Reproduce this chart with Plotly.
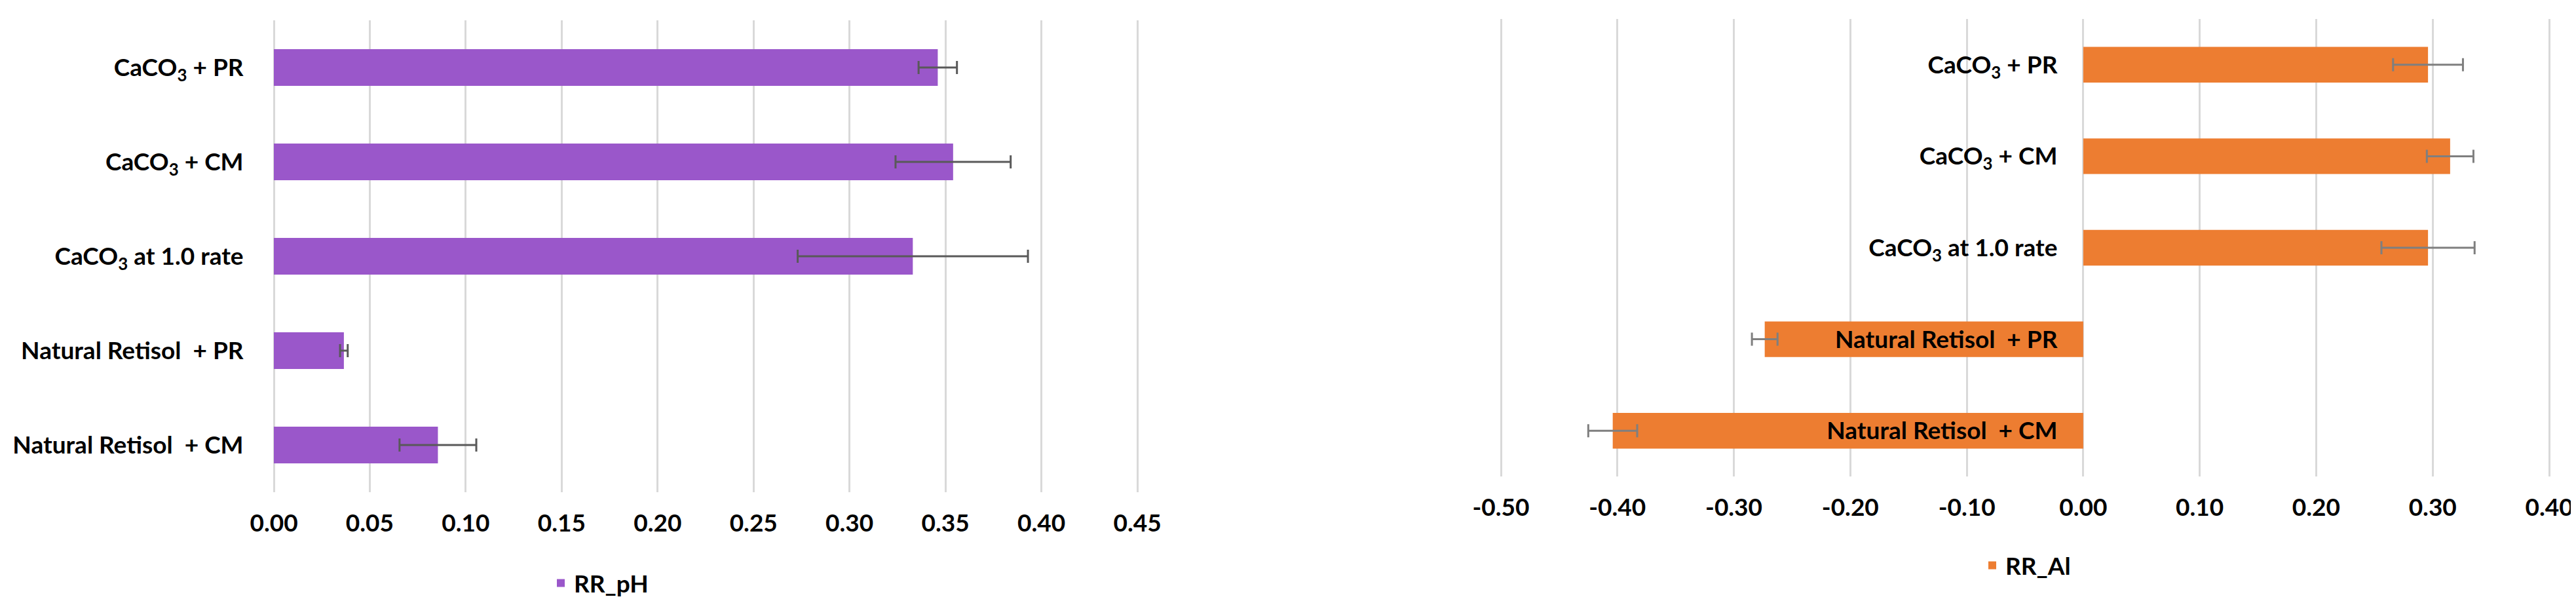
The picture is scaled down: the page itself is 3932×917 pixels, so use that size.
import plotly.graph_objects as go

# ---------------- data ----------------
categories = [
    "CaCO<sub>3</sub> + PR",
    "CaCO<sub>3</sub> + CM",
    "CaCO<sub>3</sub> at 1.0 rate",
    "Natural Retisol\u00a0 + PR",
    "Natural Retisol\u00a0 + CM",
]
rr_ph = [0.346, 0.354, 0.333, 0.0365, 0.0855]
rr_ph_err = [0.010, 0.030, 0.060, 0.002, 0.020]

rr_al = [0.296, 0.315, 0.296, -0.2735, -0.404]
rr_al_err = [0.030, 0.020, 0.040, 0.011, 0.021]

ph_tickvals = [0.00, 0.05, 0.10, 0.15, 0.20, 0.25, 0.30, 0.35, 0.40, 0.45]
ph_ticktext = ["0.00", "0.05", "0.10", "0.15", "0.20", "0.25", "0.30", "0.35", "0.40", "0.45"]
al_tickvals = [-0.50, -0.40, -0.30, -0.20, -0.10, 0.00, 0.10, 0.20, 0.30, 0.40]
al_ticktext = ["-0.50", "-0.40", "-0.30", "-0.20", "-0.10", "0.00", "0.10", "0.20", "0.30", "0.40"]

# ---------------- styling ----------------
W, H = 3932, 917
FONT = "Lato"
FS = 37
PURPLE = "#9A57CA"
ORANGE = "#ED7D31"
GRID = "#D9D9D9"
CLEAR = "rgba(0,0,0,0)"


def padded(lo, hi, px_lo, px_hi, pad_px=6):
    """Extend an axis range a few pixels so the edge gridlines stay visible."""
    per = (px_hi - px_lo) / (hi - lo)
    eps = pad_px / per
    return [lo - eps, hi + eps], [(px_lo - pad_px) / W, (px_hi + pad_px) / W]


ph_range, left_xdom = padded(0.0, 0.45, 410, 1728)
al_range, right_xdom = padded(-0.50, 0.40, 2283, 3883)
left_ydom = [1 - 743 / H, 1 - 23 / H]
right_ydom = [1 - 719 / H, 1 - 21 / H]
# y-axis of the right chart sits on the zero line
zero_pos = right_xdom[0] + (0 - al_range[0]) / (al_range[1] - al_range[0]) * (right_xdom[1] - right_xdom[0])

fig = go.Figure()
fig.add_trace(go.Bar(
    y=categories, x=rr_ph, orientation="h", name="RR_pH",
    marker=dict(color=PURPLE, line=dict(width=0)), width=0.39,
    error_x=dict(type="data", array=rr_ph_err, color="#595959", thickness=3, width=10),
    xaxis="x", yaxis="y", legend="legend", showlegend=True,
))
fig.add_trace(go.Bar(
    y=categories, x=rr_al, orientation="h", name="RR_Al",
    marker=dict(color=ORANGE, line=dict(width=0)), width=0.39,
    error_x=dict(type="data", array=rr_al_err, color="#7F7F7F", thickness=3, width=10),
    xaxis="x2", yaxis="y2", legend="legend2", showlegend=True,
))

tickfont = dict(family=FONT, size=FS, color="#000000", weight=700)
legfont = dict(family=FONT, size=FS, color="#000000", weight=700)

xcommon = dict(automargin=False, showgrid=True, gridcolor=GRID, gridwidth=3,
               zeroline=False, showline=False,
               ticks="outside", ticklen=15, tickcolor=CLEAR, tickwidth=1,
               tickfont=tickfont)
ycommon = dict(automargin=False, autorange="reversed", categoryorder="array",
               categoryarray=categories, showgrid=False, zeroline=False,
               showline=False, ticks="outside", ticklen=32, tickcolor=CLEAR,
               tickwidth=1, tickfont=tickfont)

fig.update_layout(
    width=W, height=H,
    margin=dict(l=0, r=0, t=0, b=0, autoexpand=False),
    paper_bgcolor="white", plot_bgcolor="white",
    showlegend=True,
    font=dict(family=FONT, size=FS, color="#000000"),
    xaxis=dict(domain=left_xdom, range=ph_range, anchor="y",
               tickvals=ph_tickvals, ticktext=ph_ticktext, **xcommon),
    yaxis=dict(domain=left_ydom, anchor="x", **ycommon),
    xaxis2=dict(domain=right_xdom, range=al_range, anchor="y2",
                tickvals=al_tickvals, ticktext=al_ticktext, **xcommon),
    yaxis2=dict(domain=right_ydom, anchor="free", position=zero_pos, side="left",
                **ycommon),
    legend=dict(x=828 / W, xanchor="left", y=1 - 882 / H, yanchor="middle",
                orientation="h", bgcolor=CLEAR, font=legfont),
    legend2=dict(x=3013 / W, xanchor="left", y=1 - 855 / H, yanchor="middle",
                 orientation="h", bgcolor=CLEAR, font=legfont),
)

fig.write_html("out.html")
